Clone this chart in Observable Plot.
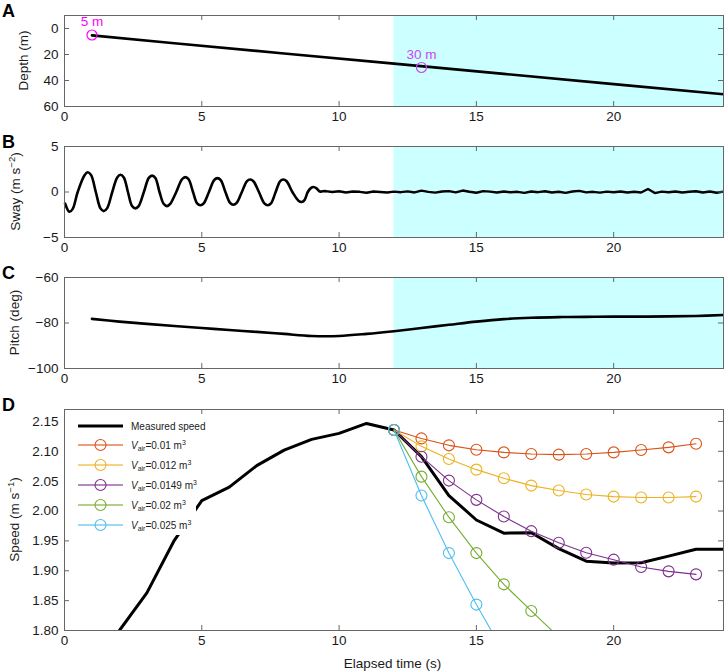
<!DOCTYPE html>
<html>
<head>
<meta charset="utf-8">
<script src="https://cdn.jsdelivr.net/npm/d3@7"></script>
<script src="https://cdn.jsdelivr.net/npm/@observablehq/plot@0.6"></script>
<style>
  body { margin: 0; background: #fff; }
  #fig { position: relative; width: 724px; height: 672px; font-family: "Liberation Sans", Arial, Helvetica, sans-serif; color: #1a1a1a; }
  #fig svg.panel { position: absolute; left: 0; }
  #legend { position: absolute; left: 65px; top: 410px; width: 131px; height: 125px; background: #fff; font-size: 10px; color: #222; }
  #legend .row { position: absolute; left: 0; height: 20px; display: flex; align-items: center; }
  #legend .row svg { flex: none; }
  #legend .row span { margin-left: 8px; white-space: nowrap; }
  #legend sub { font-size: 7px; vertical-align: -2px; }
  #legend sup { font-size: 7px; vertical-align: 4px; }
</style>
</head>
<body>
<div id="fig"></div>
<script>
// ---- shared time axis ----
const timeDomain = [0, 24];
const timeTicks = [0, 5, 10, 15, 20];
const shadeSpan = [12, 24];            // shaded interval (s)

// ---- A: depth ----
const depthTime = [1, 4, 8, 12, 16, 20, 24];
const depthValue = [5.3, 11.3, 19.2, 27.0, 34.9, 42.8, 50.6];
const depthTicks = [0, 20, 40, 60];
const markerTime = [1, 13];
const markerDepth = [5, 30];
const markerText = ["5 m", "30 m"];
const markerColor = ["#ff00ff", "#c847f5"];

// ---- B: sway ----
const swingTime = [0.02, 0.18, 0.3, 0.48, 0.73, 0.85, 0.97, 1.14, 1.31, 1.43, 1.55, 1.74, 1.92, 2.04, 2.16, 2.31, 2.46, 2.58, 2.7, 2.89, 3.07, 3.19, 3.31, 3.46, 3.61, 3.73, 3.85, 4.07, 4.28, 4.4, 4.52, 4.68, 4.83, 4.95, 5.07, 5.26, 5.45, 5.57, 5.69, 5.86, 6.03, 6.15, 6.27, 6.46, 6.64, 6.76, 6.88, 7.08, 7.28, 7.4, 7.52, 7.69, 7.85, 7.97, 8.09, 8.3, 8.52, 8.64, 8.74, 8.86, 8.98, 9.07, 9.18, 9.3, 9.4, 9.5];
const swingValue = [-1.26, -2.17, -1.85, 0, 1.85, 2.17, 1.85, 0, -1.8, -2.1, -1.8, 0, 1.6, 1.89, 1.6, 0, -1.55, -1.8, -1.55, 0, 1.55, 1.8, 1.55, 0, -1.3, -1.55, -1.3, 0, 1.4, 1.63, 1.4, 0, -1.25, -1.45, -1.25, 0, 1.3, 1.52, 1.3, 0, -1.2, -1.4, -1.2, 0, 1.18, 1.38, 1.18, 0, -1.25, -1.45, -1.25, 0, 1.18, 1.38, 1.18, 0, -0.95, -1.1, -0.9, 0, 0.45, 0.55, 0.4, 0.05, 0.08, 0.1];
const calmTime = [9.5, 9.75, 10, 10.25, 10.5, 10.75, 11, 11.25, 11.5, 11.75, 12, 12.25, 12.5, 12.75, 13, 13.25, 13.5, 13.75, 14, 14.25, 14.5, 14.75, 15, 15.25, 15.5, 15.75, 16, 16.25, 16.5, 16.75, 17, 17.25, 17.5, 17.75, 18, 18.25, 18.5, 18.75, 19, 19.25, 19.5, 19.75, 20, 20.25, 20.5, 20.75, 21, 21.25, 21.5, 21.75, 22, 22.25, 22.5, 22.75, 23, 23.25, 23.5, 23.75, 24];
const calmValue = [0.1, 0.0, 0.08, -0.05, 0.06, 0.02, -0.08, 0.05, 0.0, -0.06, 0.04, -0.02, 0.07, -0.05, 0.15, 0.02, -0.07, 0.05, 0.1, -0.04, 0.16, 0.03, -0.08, 0.1, 0.04, -0.05, 0.06, -0.03, 0.02, -0.1, 0.05, -0.02, 0.08, -0.06, 0.03, -0.09, 0.06, 0.12, -0.04, 0.02, -0.07, 0.04, -0.03, 0.05, -0.06, 0.02, -0.05, 0.33, -0.12, 0.04, -0.03, 0.06, -0.05, 0.02, 0.08, -0.06, 0.05, -0.08, 0.04];
const swayTicks = [-5, 0, 5];

// ---- C: pitch ----
const pitchTime = [1, 2, 3, 4, 5, 6, 7, 8, 9, 10, 11, 12, 13, 14, 15, 16, 17, 18, 19, 20, 21, 22, 23, 24];
const pitchValue = [-78.2, -79.4, -80.4, -81.3, -82.2, -83.1, -83.9, -84.8, -85.7, -85.7, -84.8, -83.6, -82.2, -80.8, -79.4, -78.3, -77.7, -77.4, -77.3, -77.2, -77.2, -77.1, -76.9, -76.5];
const pitchTicks = [-100, -80, -60];

// ---- D: speed ----
const speedTime = [1, 2, 3, 4, 5, 6, 7, 8, 9, 10, 11, 12, 13, 14, 15, 16, 17, 18, 19, 20, 21, 22, 23, 24];
const speedValue = [1.74, 1.80, 1.863, 1.951, 2.0175, 2.040, 2.076, 2.102, 2.120, 2.130, 2.1467, 2.1356, 2.091, 2.026, 1.985, 1.963, 1.9637, 1.937, 1.916, 1.913, 1.9135, 1.9245, 1.936, 1.936];
const speedTicks = [1.80, 1.85, 1.90, 1.95, 2.00, 2.05, 2.10, 2.15];
const modelTime = [12, 13, 14, 15, 16, 17, 18, 19, 20, 21, 22, 23];
const airVolume = ["0.01", "0.012", "0.0149", "0.02", "0.025"];
const airColor = ["#D95319", "#EDB120", "#7E2F8E", "#77AC30", "#4DBEEE"];
const air001 = [2.1356, 2.1216, 2.110, 2.1027, 2.0982, 2.0955, 2.0944, 2.0955, 2.0982, 2.1022, 2.1066, 2.1127];
const air0012 = [2.1356, 2.1083, 2.0872, 2.0693, 2.0548, 2.0426, 2.0343, 2.0276, 2.0242, 2.0226, 2.0226, 2.0242];
const air00149 = [2.1356, 2.091, 2.051, 2.0187, 1.9908, 1.9663, 1.947, 1.9302, 1.9186, 1.9062, 1.899, 1.894];
const air002 = [2.1356, 2.0576, 1.9897, 1.9296, 1.8773, 1.8327, 1.789];
const air0025 = [2.1356, 2.0259, 1.9296, 1.8434, 1.763];
const airSeries = [air001, air0012, air00149, air002, air0025];

// ---- helpers ----
const FONT = '"Liberation Sans", Arial, Helvetica, sans-serif';
const AXIS = "#666";
const INK = "#1a1a1a";
const fig = document.getElementById("fig");
const pairs = (xs, ys) => xs.map((x, i) => ({x, y: ys[i]}));
const shade = [{x1: shadeSpan[0], x2: shadeSpan[1]}];
const W = 724, ML = 64, MR = 1, MT = 10, MB = 30;
const innerW = W - ML - MR;

function panel({frameTop, innerH, y, yTicks, yFormat, marks, letter, ylabel, labelX}) {
  const svg = Plot.plot({
    width: W, height: innerH + MT + MB,
    marginLeft: ML, marginRight: MR, marginTop: MT, marginBottom: MB,
    style: {fontFamily: FONT, fontSize: "13.5px", color: INK, background: "transparent", overflow: "visible"},
    x: {domain: timeDomain},
    y,
    marks: [
      ...marks,
      Plot.ruleX(timeTicks, {insetTop: innerH - 5, stroke: AXIS}),
      Plot.ruleX(timeTicks, {insetBottom: innerH - 5, stroke: AXIS}),
      Plot.ruleY(yTicks, {insetRight: innerW - 5, stroke: AXIS}),
      Plot.ruleY(yTicks, {insetLeft: innerW - 5, stroke: AXIS}),
      Plot.frame({stroke: AXIS}),
      Plot.axisX(timeTicks, {tickSize: 0, tickPadding: 5, label: null}),
      Plot.axisY(yTicks, {tickSize: 0, tickPadding: 6, label: null, tickFormat: yFormat})
    ]
  });
  svg.classList.add("panel");
  svg.style.top = (frameTop - MT) + "px";
  const s = d3.select(svg);
  s.append("text")
    .attr("x", 2).attr("y", 6).attr("dy", "0.35em")
    .attr("text-anchor", "start")
    .attr("font-size", 18).attr("font-weight", "bold").attr("fill", "#000")
    .text(letter);
  const t = s.append("text")
    .attr("transform", `translate(${labelX},${MT + innerH / 2}) rotate(-90)`)
    .attr("text-anchor", "middle").attr("dy", "0.35em")
    .attr("font-size", 13.5).attr("fill", INK);
  ylabel.forEach(([txt, sup]) => {
    if (sup) t.append("tspan").attr("dy", -5).attr("font-size", 9.5).text(txt);
    else t.append("tspan").attr("dy", t.selectAll("tspan").size() ? 5 : 0).text(txt);
  });
  fig.appendChild(svg);
  return s;
}

// A: depth
panel({
  frameTop: 15, innerH: 91, letter: "A", labelX: 22.5,
  ylabel: [["Depth (m)"]],
  y: {domain: [-10, 60], reverse: true},
  yTicks: depthTicks,
  marks: [
    Plot.rect(shade, {x1: "x1", x2: "x2", fill: "#ccffff"}),
    Plot.line(pairs(depthTime, depthValue), {x: "x", y: "y", stroke: "#000", strokeWidth: 2.6}),
    Plot.dot(markerTime.map((t, i) => ({t, d: markerDepth[i], c: markerColor[i]})), {x: "t", y: "d", r: 5, stroke: "c", strokeWidth: 1.2}),
    Plot.text(markerTime.map((t, i) => ({t, d: markerDepth[i], c: markerColor[i], s: markerText[i]})), {x: "t", y: "d", text: "s", fill: "c", dy: -13, fontSize: 13.5})
  ]
});

// B: sway
panel({
  frameTop: 146, innerH: 91, letter: "B", labelX: 15,
  ylabel: [["Sway (m s"], ["\u22122", true], [")"]],
  y: {domain: [-5, 5]},
  yTicks: swayTicks,
  marks: [
    Plot.rect(shade, {x1: "x1", x2: "x2", fill: "#ccffff"}),
    Plot.line(pairs(swingTime, swingValue), {x: "x", y: "y", stroke: "#000", strokeWidth: 2.6, curve: "catmull-rom"}),
    Plot.line(pairs(calmTime, calmValue), {x: "x", y: "y", stroke: "#000", strokeWidth: 2.4})
  ]
});

// C: pitch
panel({
  frameTop: 277, innerH: 91, letter: "C", labelX: 14,
  ylabel: [["Pitch (deg)"]],
  y: {domain: [-100, -60]},
  yTicks: pitchTicks,
  marks: [
    Plot.rect(shade, {x1: "x1", x2: "x2", fill: "#ccffff"}),
    Plot.line(pairs(pitchTime, pitchValue), {x: "x", y: "y", stroke: "#000", strokeWidth: 2.6, curve: "catmull-rom"})
  ]
});

// D: speed with modelled trajectories for different air volumes
const modelRows = airSeries.flatMap((vals, k) => vals.map((v, i) => ({t: modelTime[i], v, k})));
const modelMarks = airSeries.flatMap((vals, k) => {
  const rows = modelRows.filter(d => d.k === k);
  return [
    Plot.line(rows, {x: "t", y: "v", stroke: airColor[k], strokeWidth: 1.1, clip: true}),
    Plot.dot(rows, {x: "t", y: "v", r: 5.5, stroke: airColor[k], strokeWidth: 1.1, fill: "none", clip: true})
  ];
});
const sD = panel({
  frameTop: 409, innerH: 221, letter: "D", labelX: 13.5,
  ylabel: [["Speed (m s"], ["\u22121", true], [")"]],
  y: {domain: [1.8, 2.17]},
  yTicks: speedTicks, yFormat: d3.format(".2f"),
  marks: [
    Plot.line(pairs(speedTime, speedValue), {x: "x", y: "y", stroke: "#000", strokeWidth: 3, clip: true}),
    ...modelMarks
  ]
});
sD.append("text")
  .attr("x", ML + innerW / 2 - 1).attr("y", MT + 221 + 33).attr("dy", "0.35em")
  .attr("text-anchor", "middle").attr("font-size", 13.5).attr("fill", INK)
  .text("Elapsed time (s)");

// legend (inside panel D, upper left)
const legend = document.createElement("div");
legend.id = "legend";
const rowsHtml = [];
rowsHtml.push(`<div class="row" style="top:6px"><svg width="58" height="20"><line x1="13" x2="58" y1="10" y2="10" stroke="#000" stroke-width="3"/></svg><span>Measured speed</span></div>`);
airVolume.forEach((v, k) => {
  rowsHtml.push(`<div class="row" style="top:${25 + k * 20}px"><svg width="58" height="20"><line x1="13" x2="58" y1="10" y2="10" stroke="${airColor[k]}" stroke-width="1.3" stroke-opacity="0.75"/><circle cx="35.5" cy="10" r="5.5" fill="none" stroke="${airColor[k]}" stroke-width="1.1"/></svg><span><i>V</i><sub>air</sub>=${v} m<sup>3</sup></span></div>`);
});
legend.innerHTML = rowsHtml.join("");
fig.appendChild(legend);
</script>
</body>
</html>
